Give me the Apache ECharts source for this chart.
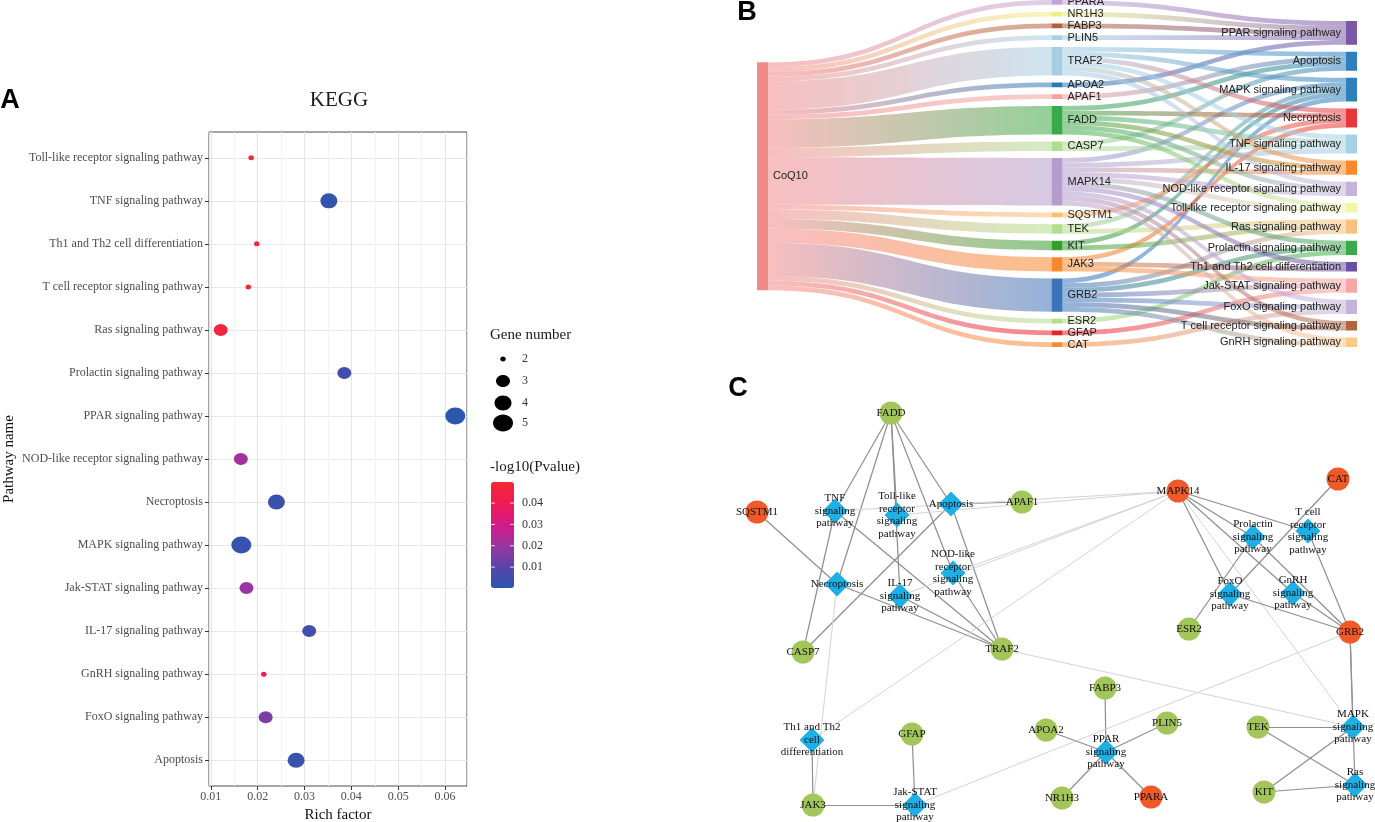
<!DOCTYPE html>
<html><head><meta charset="utf-8">
<script src="https://cdn.jsdelivr.net/npm/echarts@6/dist/echarts.min.js"></script>
<style>html,body{margin:0;padding:0;background:#fff}#c{width:1375px;height:822px}</style>
</head><body><div id="c"></div>
<script>
// ---------- Panel A data ----------
const pathways = ['Toll-like receptor signaling pathway','TNF signaling pathway','Th1 and Th2 cell differentiation','T cell receptor signaling pathway','Ras signaling pathway','Prolactin signaling pathway','PPAR signaling pathway','NOD-like receptor signaling pathway','Necroptosis','MAPK signaling pathway','Jak-STAT signaling pathway','IL-17 signaling pathway','GnRH signaling pathway','FoxO signaling pathway','Apoptosis'];
const richFactor = [0.0186,0.0352,0.0198,0.0180,0.0121,0.0385,0.0622,0.0164,0.0240,0.0165,0.0176,0.0310,0.0213,0.0217,0.0282];
const geneNumber = [2,4,2,2,3,3,5,3,4,5,3,3,2,3,4];
const pValue = [0.0499,0.0020,0.0475,0.0485,0.0460,0.0055,0.0006,0.0220,0.0035,0.0025,0.0200,0.0050,0.0410,0.0150,0.0030];
const geneLegend = [2,3,4,5];
const pTicks = [0.01,0.02,0.03,0.04];
const pRange = [0.0002,0.0499];

// ---------- Panel B data ----------
const sankeySource = 'CoQ10';
const sankeyGenes = ['PPARA','NR1H3','FABP3','PLIN5','TRAF2','APOA2','APAF1','FADD','CASP7','MAPK14','SQSTM1','TEK','KIT','JAK3','GRB2','ESR2','GFAP','CAT'];
const sankeyPathways = ['PPAR signaling pathway','Apoptosis','MAPK signaling pathway','Necroptosis','TNF signaling pathway','IL-17 signaling pathway','NOD-like receptor signaling pathway','Toll-like receptor signaling pathway','Ras signaling pathway','Prolactin signaling pathway','Th1 and Th2 cell differentiation','Jak-STAT signaling pathway','FoxO signaling pathway','T cell receptor signaling pathway','GnRH signaling pathway'];
const pathwayGenes = {
  'PPAR signaling pathway':['PPARA','NR1H3','FABP3','PLIN5','APOA2'],
  'Apoptosis':['TRAF2','APAF1','FADD','CASP7'],
  'MAPK signaling pathway':['TRAF2','MAPK14','TEK','KIT','GRB2'],
  'Necroptosis':['TRAF2','FADD','SQSTM1','JAK3'],
  'TNF signaling pathway':['TRAF2','FADD','CASP7','MAPK14'],
  'IL-17 signaling pathway':['TRAF2','FADD','MAPK14'],
  'NOD-like receptor signaling pathway':['TRAF2','FADD','MAPK14'],
  'Toll-like receptor signaling pathway':['FADD','MAPK14'],
  'Ras signaling pathway':['TEK','KIT','GRB2'],
  'Prolactin signaling pathway':['MAPK14','GRB2','ESR2'],
  'Th1 and Th2 cell differentiation':['MAPK14','JAK3'],
  'Jak-STAT signaling pathway':['JAK3','GRB2','GFAP'],
  'FoxO signaling pathway':['MAPK14','GRB2','CAT'],
  'T cell receptor signaling pathway':['MAPK14','GRB2'],
  'GnRH signaling pathway':['MAPK14','GRB2']
};

// ---------- Panel C data (network layout units inside panel C) ----------
const hubGenes = ['SQSTM1','MAPK14','CAT','GRB2','PPARA'];
const networkLayout = {
  'FADD':[171,33],'SQSTM1':[37,132],'APAF1':[302,122],'CASP7':[83,272],'TRAF2':[282,269],
  'MAPK14':[458,111],'CAT':[618,99],'ESR2':[469,249],'GRB2':[630,252],'FABP3':[385,308],
  'APOA2':[326,350],'PLIN5':[447,343],'NR1H3':[342,418],'PPARA':[431,417],'GFAP':[192,354],
  'JAK3':[93,425],'TEK':[538,347],'KIT':[544,412],
  'TNF signaling pathway':[115,131],'Toll-like receptor signaling pathway':[177,135],'Apoptosis':[231,124],
  'NOD-like receptor signaling pathway':[233,193],'Necroptosis':[117,204],'IL-17 signaling pathway':[180,216],
  'Prolactin signaling pathway':[533,157],'T cell receptor signaling pathway':[588,151],'FoxO signaling pathway':[510,214],
  'GnRH signaling pathway':[573,213],'Th1 and Th2 cell differentiation':[92,360],'Jak-STAT signaling pathway':[195,425],
  'PPAR signaling pathway':[386,372],'MAPK signaling pathway':[633,347],'Ras signaling pathway':[635,405]
};
const networkLabels = {
  'TNF signaling pathway':'TNF\nsignaling\npathway',
  'Toll-like receptor signaling pathway':'Toll-like\nreceptor\nsignaling\npathway',
  'Apoptosis':'Apoptosis',
  'NOD-like receptor signaling pathway':'NOD-like\nreceptor\nsignaling\npathway',
  'Necroptosis':'Necroptosis',
  'IL-17 signaling pathway':'IL-17\nsignaling\npathway',
  'Prolactin signaling pathway':'Prolactin\nsignaling\npathway',
  'T cell receptor signaling pathway':'T cell\nreceptor\nsignaling\npathway',
  'FoxO signaling pathway':'FoxO\nsignaling\npathway',
  'GnRH signaling pathway':'GnRH\nsignaling\npathway',
  'Th1 and Th2 cell differentiation':'Th1 and Th2\ncell\ndifferentiation',
  'Jak-STAT signaling pathway':'Jak-STAT\nsignaling\npathway',
  'PPAR signaling pathway':'PPAR\nsignaling\npathway',
  'MAPK signaling pathway':'MAPK\nsignaling\npathway',
  'Ras signaling pathway':'Ras\nsignaling\npathway'
};

// ---------- styles ----------
const bubbleSize = {2:[5.5,5],3:[14,12],4:[17,15],5:[20,17]};
const pColors = ['#2b57b0','#5a44a8','#9a35a0','#d41a88','#ef1a55','#f22a35'];
const sankeyColors = {
  'CoQ10':'#f28a8a',
  'PPARA':'#c2a5d6','NR1H3':'#eeee88','FABP3':'#b0603a','PLIN5':'#a8d0e0','TRAF2':'#a6cee3','APOA2':'#2a78b5',
  'APAF1':'#f4a0a0','FADD':'#3aaa48','CASP7':'#b0dc90','MAPK14':'#b49ccc','SQSTM1':'#fdbf6f','TEK':'#b2df8a',
  'KIT':'#33a02c','JAK3':'#f8892a','GRB2':'#3b74bb','ESR2':'#b2df8a','GFAP':'#e8202a','CAT':'#fb8a30',
  'PPAR signaling pathway':'#7a58a8','Apoptosis':'#2e80bb','MAPK signaling pathway':'#2e80bb','Necroptosis':'#e8373a',
  'TNF signaling pathway':'#a6d0e4','IL-17 signaling pathway':'#f98a2b','NOD-like receptor signaling pathway':'#c5b3db',
  'Toll-like receptor signaling pathway':'#f2f4a8','Ras signaling pathway':'#fcc07e','Prolactin signaling pathway':'#3aab4a',
  'Th1 and Th2 cell differentiation':'#6b4fa3','Jak-STAT signaling pathway':'#f7a6a6','FoxO signaling pathway':'#c6b3db',
  'T cell receptor signaling pathway':'#b0653a','GnRH signaling pathway':'#fdc784'
};
const SERIF = 'Liberation Serif';
const SANS = 'Liberation Sans';

// ---------- build ----------
const geneCount = {};
sankeyGenes.forEach(g => geneCount[g] = 0);
Object.keys(pathwayGenes).forEach(p => pathwayGenes[p].forEach(g => geneCount[g]++));

const sankeyNodes = [sankeySource].concat(sankeyGenes, sankeyPathways).map(n => ({name:n, itemStyle:{color:sankeyColors[n]}}));
const sankeyLinks = [];
sankeyGenes.forEach(g => sankeyLinks.push({source:sankeySource, target:g, value:geneCount[g]}));
sankeyPathways.forEach(p => pathwayGenes[p].forEach(g => sankeyLinks.push({source:g, target:p, value:1})));

const netNodes = Object.keys(networkLayout).map(n => {
  const isPath = !!networkLabels[n];
  return {
    name:n, value:networkLayout[n],
    symbol: isPath ? 'diamond' : 'circle',
    symbolSize: isPath ? 25 : 23,
    itemStyle:{color: isPath ? '#1cb0e6' : (hubGenes.indexOf(n) >= 0 ? '#f05a28' : '#a2c65a')},
    label:{formatter: isPath ? networkLabels[n] : n}
  };
});
const netLinks = [];
Object.keys(pathwayGenes).forEach(p => pathwayGenes[p].forEach(g => {
  const a = networkLayout[p], b = networkLayout[g];
  const len = Math.hypot(a[0]-b[0], a[1]-b[1]);
  const far = len > 220;
  netLinks.push({source:g, target:p, lineStyle:{color: far ? '#d4d4d4' : '#8e8e8e', width: far ? 1 : 1.2}});
}));

const yTickValues = pathways.map((p,i) => i);

// legend graphics for panel A
const graphics = [
  {type:'text', x:339, y:100, style:{text:'KEGG', font:'21px "'+SERIF+'"', fill:'#1a1a1a', textAlign:'center', textVerticalAlign:'middle'}},
  {type:'text', x:490, y:335, style:{text:'Gene number', font:'15px "'+SERIF+'"', fill:'#1a1a1a', textVerticalAlign:'middle'}},
  {type:'text', x:490, y:467, style:{text:'-log10(Pvalue)', font:'15px "'+SERIF+'"', fill:'#1a1a1a', textVerticalAlign:'middle'}},
  {type:'text', x:10, y:101, style:{text:'A', font:'bold 27px "'+SANS+'"', fill:'#000', textAlign:'center', textVerticalAlign:'middle'}},
  {type:'text', x:747, y:13, style:{text:'B', font:'bold 27px "'+SANS+'"', fill:'#000', textAlign:'center', textVerticalAlign:'middle'}},
  {type:'text', x:738, y:389, style:{text:'C', font:'bold 27px "'+SANS+'"', fill:'#000', textAlign:'center', textVerticalAlign:'middle'}}
];
const legY = [359,381,403,423];
geneLegend.forEach((g,i) => {
  const s = bubbleSize[g];
  graphics.push({type:'ellipse', shape:{cx:503, cy:legY[i], rx:s[0]/2, ry:s[1]/2}, style:{fill:'#000'}});
  graphics.push({type:'text', x:522, y:legY[i], style:{text:String(g), font:'12px "'+SERIF+'"', fill:'#333', textVerticalAlign:'middle'}});
});
const barTop = 482, barH = 106, barLeft = 491, barW = 23;
pTicks.forEach(t => {
  const y = barTop + barH - (t - pRange[0]) / (pRange[1] - pRange[0]) * barH;
  graphics.push({type:'line', shape:{x1:barLeft, y1:y, x2:barLeft+4, y2:y}, style:{stroke:'rgba(255,255,255,0.8)', lineWidth:1}, z:100});
  graphics.push({type:'line', shape:{x1:barLeft+barW-4, y1:y, x2:barLeft+barW, y2:y}, style:{stroke:'rgba(255,255,255,0.8)', lineWidth:1}, z:100});
  graphics.push({type:'text', x:522, y:y, style:{text:t.toFixed(2), font:'12px "'+SERIF+'"', fill:'#333', textVerticalAlign:'middle'}});
});

const option = {
  animation:false,
  backgroundColor:'#fff',
  graphic: graphics,
  grid:[
    {left:209, top:132, width:258, height:654, show:true, borderColor:'#4d4d4d', borderWidth:1, backgroundColor:'#fff',
     containLabel:false, outerBoundsMode:'none'},
    {left:720, top:380, width:655, height:442, show:false, containLabel:false, outerBoundsMode:'none'}
  ],
  xAxis:[
    {type:'value', gridIndex:0, min:0.0096, max:0.0647, splitNumber:5,
     axisLine:{show:false, onZero:false}, axisTick:{show:true, length:4, lineStyle:{color:'#333'}},
     axisLabel:{color:'#4d4d4d', fontFamily:SERIF, fontSize:12, margin:5, showMinLabel:false, showMaxLabel:false,
       formatter:v => v.toFixed(2)},
     splitLine:{show:true, lineStyle:{color:'#e4e4e4', width:1}},
     minorTick:{show:false, splitNumber:2},
     minorSplitLine:{show:true, lineStyle:{color:'#f3f3f3', width:1}},
     name:'Rich factor', nameLocation:'middle', nameGap:18,
     nameTextStyle:{fontFamily:SERIF, fontSize:15, color:'#111'}},
    {type:'value', gridIndex:1, min:0, max:655, show:false}
  ],
  yAxis:[
    {type:'value', gridIndex:0, min:-0.6, max:14.6, inverse:true, splitNumber:15, minInterval:1,
     axisLine:{show:false, onZero:false}, axisTick:{show:true, length:4, lineStyle:{color:'#333'}, customValues:yTickValues},
     axisLabel:{color:'#4d4d4d', fontFamily:SERIF, fontSize:12, margin:6, customValues:yTickValues,
       formatter:v => { const r = Math.round(v); return Math.abs(v - r) < 1e-6 && pathways[r] ? pathways[r] : ''; }},
     splitLine:{show:true, lineStyle:{color:'#e8e8e8', width:1}},
     name:'Pathway name', nameLocation:'middle', nameGap:192, nameRotate:90,
     nameTextStyle:{fontFamily:SERIF, fontSize:15, color:'#111'}},
    {type:'value', gridIndex:1, min:0, max:442, inverse:true, show:false}
  ],
  visualMap:[{
    type:'continuous', seriesIndex:0, dimension:2, min:pRange[0], max:pRange[1],
    inRange:{color:pColors}, left:barLeft, top:barTop, itemWidth:barW, itemHeight:barH,
    calculable:false, padding:0, orient:'vertical', show:true, hoverLink:false
  }],
  series:[
    {
      type:'scatter', xAxisIndex:0, yAxisIndex:0, silent:true,
      data: pathways.map((p,i) => [richFactor[i], i, pValue[i], geneNumber[i]]),
      symbolSize: v => bubbleSize[v[3]],
      itemStyle:{opacity:1}
    },
    {
      type:'sankey', left:757, right:18, top:0, bottom:475,
      nodeWidth:11, nodeGap:7, layoutIterations:38, draggable:false, silent:true,
      data:sankeyNodes, links:sankeyLinks,
      label:{fontFamily:SANS, fontSize:11, color:'#222', distance:5},
      itemStyle:{borderWidth:0},
      lineStyle:{color:'gradient', opacity:0.55, curveness:0.5},
      emphasis:{disabled:true},
      levels:[
        {depth:0, label:{position:'right'}},
        {depth:1, label:{position:'right'}},
        {depth:2, label:{position:'left'}}
      ]
    },
    {
      type:'graph', coordinateSystem:'cartesian2d', xAxisIndex:1, yAxisIndex:1, silent:true,
      data:netNodes, links:netLinks,
      label:{show:true, position:'inside', fontFamily:SERIF, fontSize:11, color:'#111', lineHeight:12.5},
      lineStyle:{opacity:1, curveness:0},
      emphasis:{disabled:true}
    }
  ]
};
const chart = echarts.init(document.getElementById('c'));
chart.setOption(option);
</script></body></html>
